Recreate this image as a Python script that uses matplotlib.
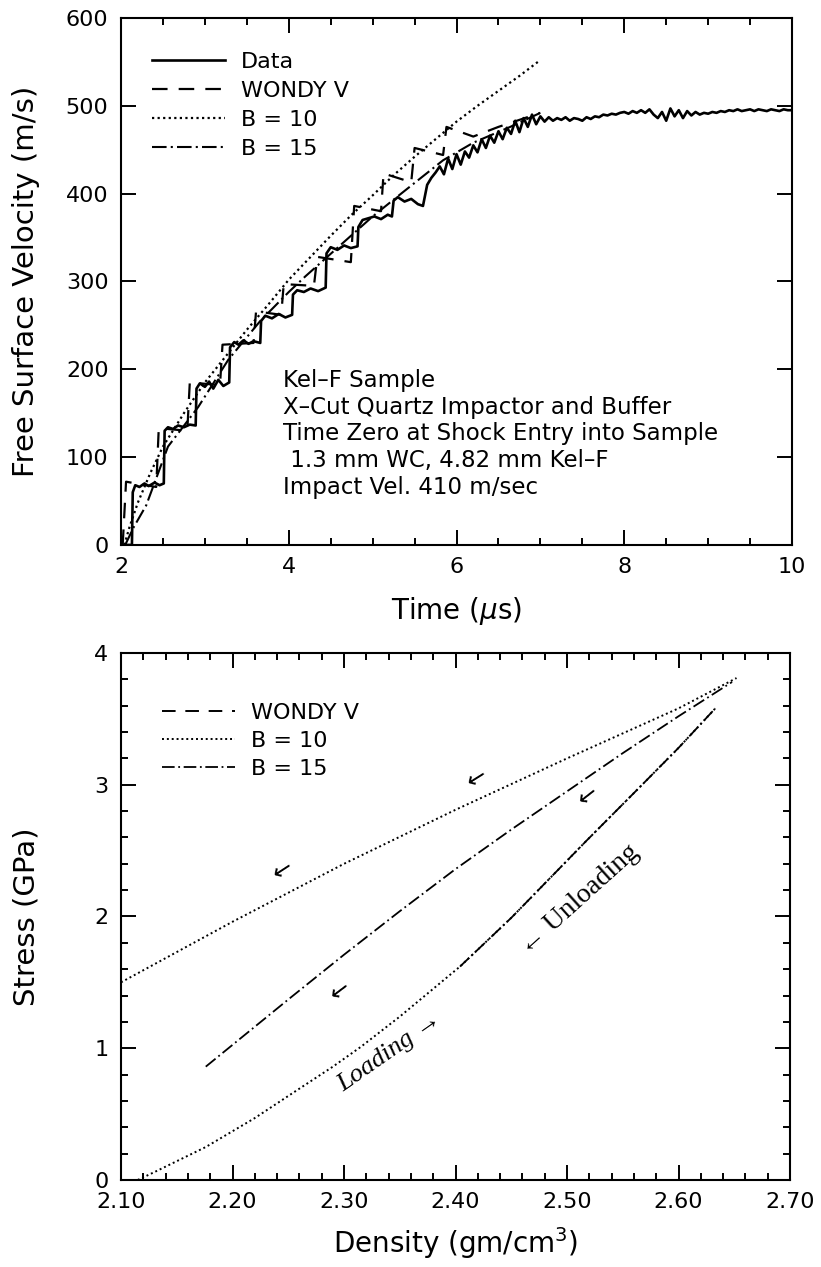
import matplotlib
matplotlib.use('Agg')
import matplotlib.pyplot as plt
from matplotlib.ticker import MultipleLocator, FormatStrFormatter

plt.rcParams['font.family'] = ['DejaVu Sans']

# ---- top panel: free surface velocity vs time ----
t_data = [2.00, 2.13, 2.14, 2.17, 2.22, 2.28, 2.33, 2.40, 2.46, 2.51,
          2.52, 2.56, 2.62, 2.68, 2.75, 2.82, 2.89,
          2.90, 2.94, 3.00, 3.05, 3.10, 3.16, 3.22, 3.29,
          3.30, 3.35, 3.40, 3.46, 3.52, 3.58, 3.66,
          3.67, 3.72, 3.80, 3.88, 3.96, 4.04,
          4.05, 4.10, 4.18, 4.26, 4.35, 4.44,
          4.45, 4.50, 4.58, 4.66, 4.74, 4.82,
          4.83, 4.88, 4.95, 5.02, 5.10, 5.18, 5.23,
          5.25, 5.30, 5.38, 5.46, 5.54, 5.60,
          5.65, 5.70, 5.75, 5.80, 5.85, 5.90, 5.95, 6.00, 6.05, 6.10,
          6.15, 6.20, 6.25, 6.30, 6.35, 6.40, 6.45, 6.50, 6.55, 6.60,
          6.65, 6.70, 6.75, 6.80, 6.85, 6.90, 6.95, 7.00, 7.05, 7.10,
          7.15, 7.20, 7.25, 7.30, 7.35, 7.40, 7.45, 7.50, 7.55, 7.60,
          7.65, 7.70, 7.75, 7.80, 7.85, 7.90, 7.95, 8.00, 8.05, 8.10,
          8.15, 8.20, 8.25, 8.30, 8.35, 8.40, 8.45, 8.50, 8.55, 8.60,
          8.65, 8.70, 8.75, 8.80, 8.85, 8.90, 8.95, 9.00, 9.05, 9.10,
          9.15, 9.20, 9.25, 9.30, 9.35, 9.40, 9.45, 9.50, 9.55, 9.60,
          9.65, 9.70, 9.75, 9.80, 9.85, 9.90, 9.95, 10.00]
v_data = [0, 0, 60, 68, 66, 70, 67, 71, 68, 70,
          130, 134, 132, 136, 134, 137, 136,
          178, 184, 180, 186, 178, 188, 181, 185,
          225, 231, 228, 233, 229, 232, 230,
          255, 261, 258, 263, 259, 262,
          285, 290, 288, 292, 289, 293,
          332, 339, 336, 341, 338, 340,
          362, 370, 372, 374, 371, 376, 374,
          392, 396, 391, 394, 388, 386,
          410, 418, 424, 431, 422, 440, 428, 445, 433, 448,
          441, 455, 447, 462, 452, 466, 458, 471, 462, 475,
          468, 483, 470, 486, 476, 490, 479, 488, 482, 487,
          483, 486, 484, 487, 483, 486, 485, 483, 487, 485,
          488, 487, 490, 489, 491, 490, 492, 493, 491, 494,
          492, 495, 492, 496, 490, 486, 493, 483, 497, 488,
          495, 486, 494, 489, 493, 490, 492, 491, 493, 492,
          494, 493, 495, 494, 496, 494, 495, 496, 494, 496,
          495, 494, 496, 495, 494, 496, 495, 495]

t_wondy = [2.02, 2.06, 2.42, 2.45, 2.79, 2.82, 3.18, 3.21, 3.58, 3.61,
           3.91, 3.94, 4.30, 4.34, 4.74, 4.78, 5.10, 5.13, 5.46, 5.50,
           5.84, 5.88, 6.20, 6.50, 7.00]
v_wondy = [0, 72, 66, 133, 130, 185, 182, 228, 230, 266,
           262, 297, 295, 328, 322, 386, 380, 423, 413, 452,
           444, 476, 465, 476, 492]

t_b10 = [2.04, 2.10, 2.20, 2.35, 2.50, 2.75, 3.00, 3.25, 3.50, 3.75, 4.00, 4.25,
         4.50, 4.75, 5.00, 5.25, 5.50, 5.75, 6.00, 6.25, 6.50, 6.75, 6.97]
v_b10 = [0, 20, 48, 82, 112, 150, 185, 215, 245, 273, 302, 327,
         352, 376, 398, 421, 442, 462, 482, 500, 517, 534, 550]

t_b15 = [2.05, 2.15, 2.30, 2.56, 2.92, 3.28, 3.66, 4.00, 4.20, 4.60, 5.00, 5.30,
         5.84, 6.20, 6.64, 7.00]
v_b15 = [0, 20, 45, 112, 157, 211, 255, 288, 306, 340, 374, 397,
         438, 458, 476, 492]

note_lines = ["Kel\u2013F Sample",
              "X\u2013Cut Quartz Impactor and Buffer",
              "Time Zero at Shock Entry into Sample",
              " 1.3 mm WC, 4.82 mm Kel\u2013F",
              "Impact Vel. 410 m/sec"]

# ---- bottom panel: stress vs density ----
rho_b10 = [2.10, 2.20, 2.30, 2.40, 2.50, 2.60, 2.652]
s_b10 = [1.50, 1.96, 2.40, 2.81, 3.20, 3.58, 3.81]

rho_b15 = [2.176, 2.25, 2.30, 2.35, 2.40, 2.45, 2.50, 2.55, 2.60, 2.648]
s_b15 = [0.86, 1.37, 1.71, 2.04, 2.36, 2.66, 2.95, 3.24, 3.52, 3.78]

rho_load = [2.115, 2.13, 2.176, 2.22, 2.254, 2.29, 2.315, 2.35, 2.404, 2.45,
            2.518, 2.565, 2.60, 2.633]
s_load = [0.0, 0.06, 0.25, 0.47, 0.66, 0.86, 1.01, 1.24, 1.62, 1.99,
          2.58, 2.98, 3.28, 3.58]

arrow_rho = [2.419, 2.519, 2.245, 2.297]
arrow_s = [3.05, 2.92, 2.35, 1.44]
arrow_rot = [32, 38, 33, 37]

DOT = (0, (1, 1.5))
DASH = (0, (7, 5))
DASHDOT = (0, (7, 2, 1, 2))
SERIF = ['Liberation Serif', 'DejaVu Serif']

fig = plt.figure(figsize=(8.21, 12.67), dpi=100)
ax1 = fig.add_axes([0.1474, 0.5699, 0.8173, 0.4159])
ax2 = fig.add_axes([0.1474, 0.0687, 0.8149, 0.4159])

ax1.plot(t_data, v_data, color='black', lw=1.9, label='Data')
ax1.plot(t_wondy, v_wondy, color='black', lw=1.6, linestyle=DASH, label='WONDY V')
ax1.plot(t_b10, v_b10, color='black', lw=1.6, linestyle=DOT, label='B = 10')
ax1.plot(t_b15, v_b15, color='black', lw=1.5, linestyle=DASHDOT, label='B = 15')

ax1.set_xlim(2, 10)
ax1.set_ylim(0, 600)
ax1.xaxis.set_major_locator(MultipleLocator(2))
ax1.xaxis.set_minor_locator(MultipleLocator(0.5))
ax1.yaxis.set_major_locator(MultipleLocator(100))
ax1.set_xlabel('Time ($\\mu$s)', fontsize=20)
ax1.set_ylabel('Free Surface Velocity (m/s)', fontsize=21)
ax1.xaxis.set_label_coords(0.5, -0.095)
ax1.yaxis.set_label_coords(-0.12, 0.5)
ax1.text(3.93, 200, "\n".join(note_lines), fontsize=16.5, va='top', ha='left',
         linespacing=1.2)
ax1.legend(loc='upper left', bbox_to_anchor=(0.046, 0.935), frameon=False,
           fontsize=16, handlelength=3.3, handletextpad=0.7, labelspacing=0.4,
           borderpad=0, borderaxespad=0)

ax2.plot(rho_b10, s_b10, color='black', lw=1.4, linestyle=DOT)
ax2.plot(rho_b15, s_b15, color='black', lw=1.3, linestyle=DASHDOT)
ax2.plot(rho_load, s_load, color='black', lw=1.4, linestyle=DOT)
ax2.plot(rho_load[8:], s_load[8:], color='black', lw=1.3, linestyle=DASHDOT)
# legend entries only
ax2.plot([], [], color='black', lw=1.4, linestyle=DASH, label='WONDY V')
ax2.plot([], [], color='black', lw=1.4, linestyle=DOT, label='B = 10')
ax2.plot([], [], color='black', lw=1.3, linestyle=DASHDOT, label='B = 15')

for r, s, a in zip(arrow_rho, arrow_s, arrow_rot):
    ax2.text(r, s, '\u2190', fontsize=17, rotation=a, ha='center', va='center',
             family='DejaVu Sans', rotation_mode='anchor')
ax2.text(2.341, 0.97, 'Loading \u2192', fontsize=19, rotation=35, ha='center',
         va='center', style='italic', family=SERIF, rotation_mode='anchor')
ax2.text(2.511, 2.125, '\u2190 Unloading', fontsize=20, rotation=42, ha='center',
         va='center', family=SERIF, rotation_mode='anchor')

ax2.set_xlim(2.10, 2.70)
ax2.set_ylim(0, 4)
ax2.xaxis.set_major_locator(MultipleLocator(0.1))
ax2.xaxis.set_minor_locator(MultipleLocator(0.02))
ax2.xaxis.set_major_formatter(FormatStrFormatter('%.2f'))
ax2.yaxis.set_major_locator(MultipleLocator(1))
ax2.yaxis.set_minor_locator(MultipleLocator(0.2))
ax2.set_xlabel('Density (gm/cm$^3$)', fontsize=20)
ax2.set_ylabel('Stress (GPa)', fontsize=21)
ax2.xaxis.set_label_coords(0.5, -0.085)
ax2.yaxis.set_label_coords(-0.12, 0.5)
ax2.legend(loc='upper left', bbox_to_anchor=(0.061, 0.905), frameon=False,
           fontsize=16, handlelength=3.3, handletextpad=0.7, labelspacing=0.35,
           borderpad=0, borderaxespad=0)

for ax in (ax1, ax2):
    for sp in ax.spines.values():
        sp.set_linewidth(1.5)
    ax.tick_params(which='both', direction='in', top=True, right=True, width=1.4,
                   labelsize=16)
    ax.tick_params(which='major', length=11, pad=9)
    ax.tick_params(which='minor', length=5)

fig.savefig('out.png', dpi=100, facecolor='white')
